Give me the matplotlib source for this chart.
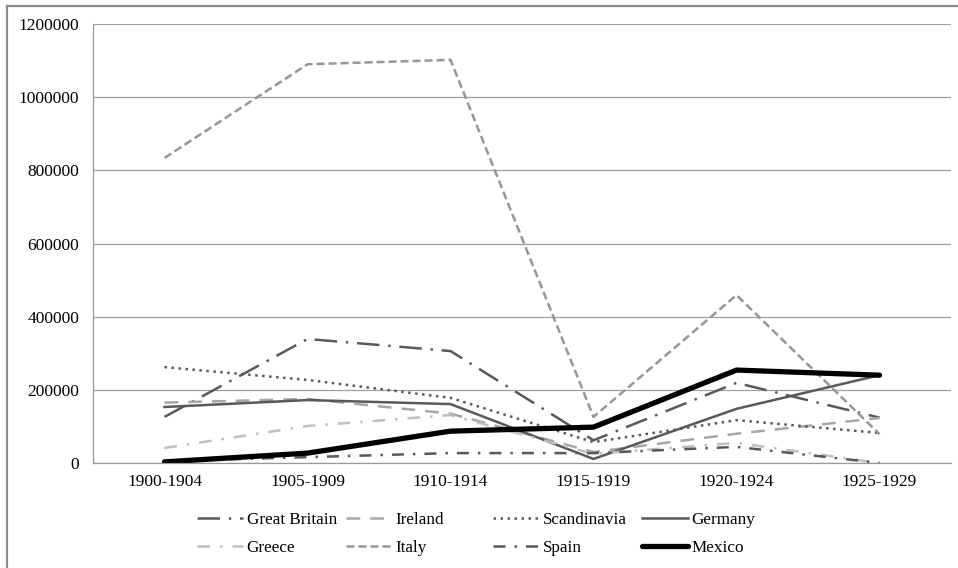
import numpy as np
import matplotlib
matplotlib.use("Agg")
import matplotlib.pyplot as plt
from matplotlib.lines import Line2D
from matplotlib.ticker import FuncFormatter

plt.rcParams['font.family'] = ['Liberation Serif', 'DejaVu Serif']

periods = ["1900-1904", "1905-1909", "1910-1914", "1915-1919", "1920-1924", "1925-1929"]

great_britain = [126000, 339000, 306000, 62000, 219000, 124000]
ireland = [165000, 175000, 135000, 30000, 80000, 123000]
scandinavia = [262000, 227000, 178000, 57000, 117000, 82000]
germany = [153000, 172000, 161000, 11000, 148000, 240000]
greece = [41000, 101000, 131000, 25000, 55000, 0]
italy = [834000, 1090000, 1102000, 126000, 459000, 79000]
spain = [5000, 16000, 27000, 27000, 44000, 0]
mexico = [3000, 27000, 87000, 98000, 254000, 240000]

dark = '#595959'
light = '#bfbfbf'
mid = '#969696'

fig = plt.figure(figsize=(9.58, 5.68), dpi=100)
ax = fig.add_axes([0.0971, 0.1849, 0.8956, 0.7728])

x = np.arange(len(periods))
lw = 1.8
l_gb, = ax.plot(x, great_britain, color=dark, lw=lw, dashes=(9, 3.5, 1, 3.5), label='Great Britain')
l_ir, = ax.plot(x, ireland, color='#a6a6a6', lw=lw, dashes=(5.5, 4), label='Ireland')
l_sc, = ax.plot(x, scandinavia, color=dark, lw=lw, dashes=(1, 1.8), label='Scandinavia')
l_ge, = ax.plot(x, germany, color=dark, lw=lw, label='Germany')
l_gr, = ax.plot(x, greece, color=light, lw=lw, dashes=(5, 4, 1, 4), label='Greece')
l_it, = ax.plot(x, italy, color=mid, lw=lw, dashes=(3.2, 1.6), label='Italy')
l_sp, = ax.plot(x, spain, color=dark, lw=lw, dashes=(4.8, 3.6, 1, 3.6), label='Spain')
l_mx, = ax.plot(x, mexico, color='black', lw=3.8, solid_capstyle='round', label='Mexico')

ax.set_xlim(-0.5, 5.5)
ax.set_ylim(0, 1200000)
ax.set_yticks(np.arange(0, 1200001, 200000))
ax.yaxis.set_major_formatter(FuncFormatter(lambda v, p: '%d' % v))
ax.set_xticks(x)
ax.set_xticklabels(periods)
ax.tick_params(axis='both', length=0, colors='black', labelsize=12.5)
ax.tick_params(axis='y', pad=10)
ax.tick_params(axis='x', pad=8)
ax.grid(axis='y', color='#a0a0a0', lw=0.9)
ax.set_axisbelow(True)
for s in ['top', 'right']:
    ax.spines[s].set_visible(False)
for s in ['left', 'bottom']:
    ax.spines[s].set_color('#999999')
    ax.spines[s].set_linewidth(0.9)

# legend laid out as 4 equal columns, two rows
columns = [(l_gb, l_gr), (l_ir, l_it), (l_sc, l_sp), (l_ge, l_mx)]
col_x = [197, 346, 493, 642]
for (h1, h2), cx in zip(columns, col_x):
    leg = fig.legend([h1, h2], [h1.get_label(), h2.get_label()],
                     loc='center left', bbox_to_anchor=(cx / 958, 0.0607),
                     frameon=False, fontsize=12.3, handlelength=2.7,
                     handletextpad=0.2, labelspacing=0.7, borderpad=0,
                     borderaxespad=0)

# outer chart border (top and left edges visible)
fig.add_artist(Line2D([7 / 958, 7 / 958], [0, 1 - 6 / 568], color='#8c8c8c', lw=1.6))
fig.add_artist(Line2D([7 / 958, 1], [1 - 6 / 568, 1 - 6 / 568], color='#8c8c8c', lw=1.6))

fig.savefig("out.png", dpi=100)
